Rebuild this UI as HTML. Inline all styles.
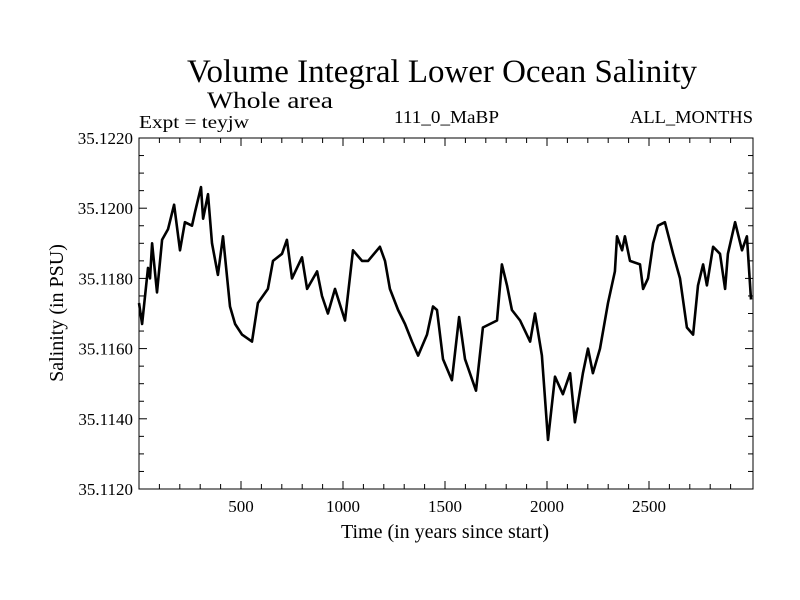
<!DOCTYPE html>
<html><head><meta charset="utf-8"><style>
html,body{margin:0;padding:0;background:#fff;}
svg{display:block;font-family:"Liberation Serif",serif;}
</style></head><body>
<svg id="chart" width="800" height="600" viewBox="0 0 800 600">
<rect x="0" y="0" width="800" height="600" fill="#fff"/>
<text x="442" y="82" font-size="33" text-anchor="middle" textLength="510" lengthAdjust="spacingAndGlyphs">Volume Integral Lower Ocean Salinity</text>
<text x="207" y="108" font-size="23" textLength="126" lengthAdjust="spacingAndGlyphs">Whole area</text>
<text x="139" y="128" font-size="18" textLength="110" lengthAdjust="spacingAndGlyphs">Expt = teyjw</text>
<text x="394" y="123" font-size="18" textLength="105" lengthAdjust="spacingAndGlyphs">111_0_MaBP</text>
<text x="753" y="123" font-size="18" text-anchor="end" textLength="123" lengthAdjust="spacingAndGlyphs">ALL_MONTHS</text>
<text x="445" y="538" font-size="20" text-anchor="middle">Time (in years since start)</text>
<text transform="translate(63,313) rotate(-90)" font-size="20" text-anchor="middle">Salinity (in PSU)</text>
<g id="axes"></g>
<g id="series"></g>
</svg>
<script>
const years=[0,15,44,54,64,88,113,142,172,201,225,260,275,304,314,338,358,387,412,446,471,505,554,583,632,657,701,725,750,799,824,873,897,926,961,1010,1049,1093,1123,1181,1206,1230,1270,1304,1338,1368,1412,1441,1461,1490,1534,1569,1598,1652,1686,1755,1779,1804,1828,1868,1917,1941,1975,2005,2039,2078,2113,2137,2176,2201,2225,2260,2299,2333,2343,2368,2382,2407,2456,2471,2495,2520,2544,2578,2618,2652,2686,2716,2740,2765,2784,2814,2848,2873,2887,2922,2956,2980,3000];
const salinity=[35.1173,35.1167,35.1183,35.1180,35.1190,35.1176,35.1191,35.1194,35.1201,35.1188,35.1196,35.1195,35.1199,35.1206,35.1197,35.1204,35.1190,35.1181,35.1192,35.1172,35.1167,35.1164,35.1162,35.1173,35.1177,35.1185,35.1187,35.1191,35.1180,35.1186,35.1177,35.1182,35.1175,35.1170,35.1177,35.1168,35.1188,35.1185,35.1185,35.1189,35.1185,35.1177,35.1171,35.1167,35.1162,35.1158,35.1164,35.1172,35.1171,35.1157,35.1151,35.1169,35.1157,35.1148,35.1166,35.1168,35.1184,35.1178,35.1171,35.1168,35.1162,35.1170,35.1158,35.1134,35.1152,35.1147,35.1153,35.1139,35.1153,35.1160,35.1153,35.1160,35.1173,35.1182,35.1192,35.1188,35.1192,35.1185,35.1184,35.1177,35.1180,35.1190,35.1195,35.1196,35.1187,35.1180,35.1166,35.1164,35.1178,35.1184,35.1178,35.1189,35.1187,35.1177,35.1187,35.1196,35.1188,35.1192,35.1174];
const xTicks=[500,1000,1500,2000,2500];
const xTickLabels=["500","1000","1500","2000","2500"];
const yTicks=[35.112,35.114,35.116,35.118,35.120,35.122];
const yTickLabels=["35.1120","35.1140","35.1160","35.1180","35.1200","35.1220"];
const X0=139,X1=751,Y0=489,Y1=138,XMIN=0,XMAX=3000,YMIN=35.112,YMAX=35.122;
const sx=v=>X0+(v-XMIN)/(XMAX-XMIN)*(X1-X0);
const sy=v=>Y0-(v-YMIN)/(YMAX-YMIN)*(Y0-Y1);
const NS="http://www.w3.org/2000/svg";
const axes=document.getElementById('axes');
function mk(tag,attrs,parent){const e=document.createElementNS(NS,tag);for(const k in attrs)e.setAttribute(k,attrs[k]);parent.appendChild(e);return e;}
const frame=mk('rect',{x:X0,y:Y1,width:X1-X0+2,height:Y0-Y1,fill:'none',stroke:'#000','stroke-width':1},axes);


for(let t=100;t<XMAX;t+=100){const major=t%500===0;const len=major?8:5;const x=sx(t);
mk('line',{x1:x,x2:x,y1:Y0,y2:Y0-len,stroke:'#000'},axes);mk('line',{x1:x,x2:x,y1:Y1,y2:Y1+len,stroke:'#000'},axes);}
for(let i=0;i<=20;i++){const v=YMIN+i*0.0005;const major=i%4===0;const len=major?8:5;const y=sy(v);
mk('line',{x1:X0,x2:X0+len,y1:y,y2:y,stroke:'#000'},axes);mk('line',{x1:X1+2,x2:X1+2-len,y1:y,y2:y,stroke:'#000'},axes);}
xTicks.forEach((t,i)=>{const e=mk('text',{x:sx(t),y:Y0+23,'font-size':17,'text-anchor':'middle'},axes);e.textContent=xTickLabels[i];

});
yTicks.forEach((t,i)=>{const e=mk('text',{x:X0-6,y:sy(t)+6,'font-size':17,'text-anchor':'end'},axes);e.textContent=yTickLabels[i];

});
const d=years.map((yr,i)=>(i?'L':'M')+sx(yr).toFixed(1)+','+sy(salinity[i]).toFixed(1)).join(' ');
const line=mk('path',{d:d,fill:'none',stroke:'#000','stroke-width':2.6,'stroke-linejoin':'round'},document.getElementById('series'));


</script>
</body></html>
